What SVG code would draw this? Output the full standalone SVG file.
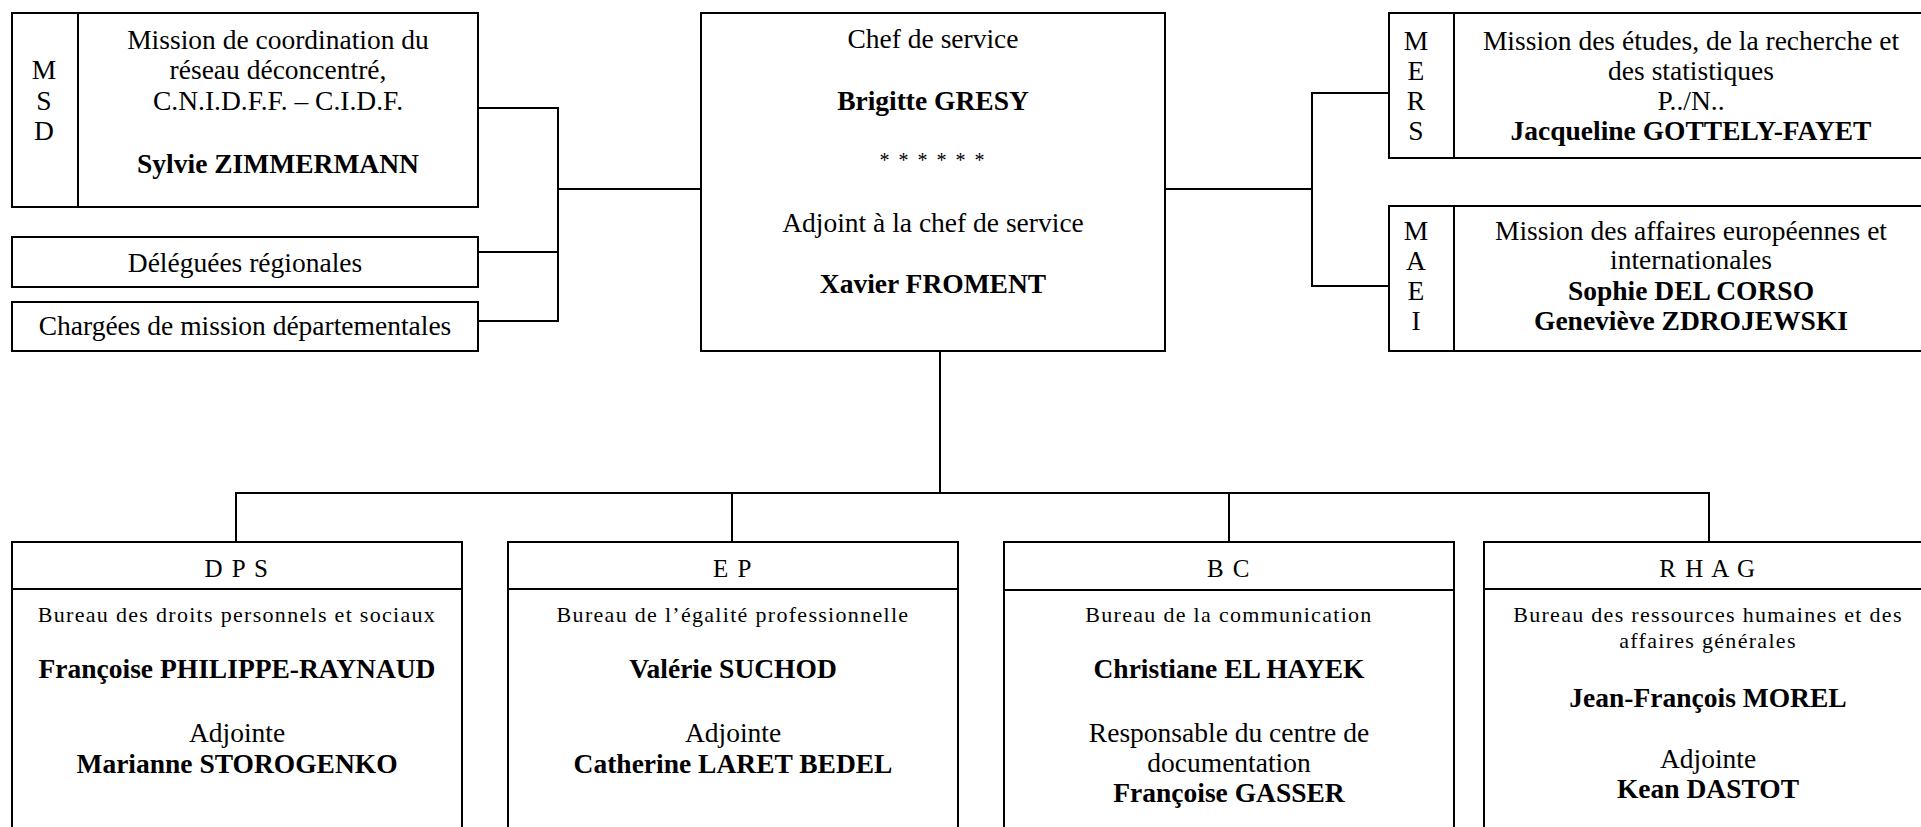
<svg xmlns="http://www.w3.org/2000/svg" width="1921" height="827" viewBox="0 0 1921 827">
<style>
.ln{fill:none;stroke:#000;stroke-width:2}
text{font-family:"Liberation Serif","Times New Roman",serif;fill:#000;font-size:27.5px;text-anchor:middle}
.b{font-weight:bold}
.s{font-size:22px;letter-spacing:1.3px}
.h{font-size:25px;letter-spacing:1.5px}
</style>
<rect x="0" y="0" width="1921" height="827" style="fill:#fff;stroke:none"/>
<g id="connectors" class="ln">
<polyline points="478,108 558,108 558,321 478,321"/>
<line x1="478" y1="252" x2="558" y2="252"/>
<line x1="558" y1="189" x2="701" y2="189"/>
<line x1="1165" y1="189" x2="1312" y2="189"/>
<polyline points="1389,93 1312,93 1312,286 1389,286"/>
<line x1="940" y1="351" x2="940" y2="493"/>
<polyline points="236,542 236,493 1709,493 1709,542"/>
<line x1="732" y1="493" x2="732" y2="542"/>
<line x1="1229" y1="493" x2="1229" y2="542"/>
</g>
<g id="msd">
<rect class="ln" x="12" y="13" width="466" height="194"/>
<line class="ln" x1="78" y1="13" x2="78" y2="207"/>
<text x="44" y="79">M</text>
<text x="44" y="110">S</text>
<text x="44" y="140">D</text>
<text x="278" y="49">Mission de coordination du</text>
<text x="278" y="79">réseau déconcentré,</text>
<text x="278" y="110">C.N.I.D.F.F. – C.I.D.F.</text>
<text x="278" y="173" class="b">Sylvie ZIMMERMANN</text>
</g>
<g id="deleguees">
<rect class="ln" x="12" y="237" width="466" height="50"/>
<text x="245" y="272">Déléguées régionales</text>
</g>
<g id="chargees">
<rect class="ln" x="12" y="302" width="466" height="49"/>
<text x="245" y="335">Chargées de mission départementales</text>
</g>
<g id="chef">
<rect class="ln" x="701" y="13" width="464" height="338"/>
<text x="933" y="48">Chef de service</text>
<text x="933" y="110" class="b">Brigitte GRESY</text>
<text x="933" y="167" style="font-size:20px;letter-spacing:2px">* * * * * *</text>
<text x="933" y="232">Adjoint à la chef de service</text>
<text x="933" y="293" class="b">Xavier FROMENT</text>
</g>
<g id="mers">
<rect class="ln" x="1389" y="13" width="540" height="145"/>
<line class="ln" x1="1454" y1="13" x2="1454" y2="158"/>
<text x="1416" y="50">M</text>
<text x="1416" y="80">E</text>
<text x="1416" y="110">R</text>
<text x="1416" y="140">S</text>
<text x="1691" y="50">Mission des études, de la recherche et</text>
<text x="1691" y="80">des statistiques</text>
<text x="1691" y="110">P../N..</text>
<text x="1691" y="140" class="b">Jacqueline GOTTELY-FAYET</text>
</g>
<g id="maei">
<rect class="ln" x="1389" y="206" width="540" height="145"/>
<line class="ln" x1="1454" y1="206" x2="1454" y2="351"/>
<text x="1416" y="240">M</text>
<text x="1416" y="270">A</text>
<text x="1416" y="300">E</text>
<text x="1416" y="330">I</text>
<text x="1691" y="240">Mission des affaires européennes et</text>
<text x="1691" y="269">internationales</text>
<text x="1691" y="300" class="b">Sophie DEL CORSO</text>
<text x="1691" y="330" class="b">Geneviève ZDROJEWSKI</text>
</g>
<g id="dps">
<rect class="ln" x="12" y="542" width="450" height="310"/>
<line class="ln" x1="12" y1="589" x2="462" y2="589"/>
<text x="237" y="577" class="h">D P S</text>
<text x="237" y="622" class="s">Bureau des droits personnels et sociaux</text>
<text x="237" y="678" class="b">Françoise PHILIPPE-RAYNAUD</text>
<text x="237" y="742">Adjointe</text>
<text x="237" y="773" class="b">Marianne STOROGENKO</text>
</g>
<g id="ep">
<rect class="ln" x="508" y="542" width="450" height="310"/>
<line class="ln" x1="508" y1="589" x2="958" y2="589"/>
<text x="733" y="577" class="h">E P</text>
<text x="733" y="622" class="s">Bureau de l’égalité professionnelle</text>
<text x="733" y="678" class="b">Valérie SUCHOD</text>
<text x="733" y="742">Adjointe</text>
<text x="733" y="773" class="b">Catherine LARET BEDEL</text>
</g>
<g id="bc">
<rect class="ln" x="1004" y="542" width="450" height="310"/>
<line class="ln" x1="1004" y1="590" x2="1454" y2="590"/>
<text x="1229" y="577" class="h">B C</text>
<text x="1229" y="622" class="s">Bureau de la communication</text>
<text x="1229" y="678" class="b">Christiane EL HAYEK</text>
<text x="1229" y="742">Responsable du centre de</text>
<text x="1229" y="772">documentation</text>
<text x="1229" y="802" class="b">Françoise GASSER</text>
</g>
<g id="rhag">
<rect class="ln" x="1484" y="542" width="450" height="310"/>
<line class="ln" x1="1484" y1="589" x2="1934" y2="589"/>
<text x="1708" y="577" class="h">R H A G</text>
<text x="1708" y="622" class="s">Bureau des ressources humaines et des</text>
<text x="1708" y="648" class="s">affaires générales</text>
<text x="1708" y="707" class="b">Jean-François MOREL</text>
<text x="1708" y="768">Adjointe</text>
<text x="1708" y="798" class="b">Kean DASTOT</text>
</g>
</svg>
